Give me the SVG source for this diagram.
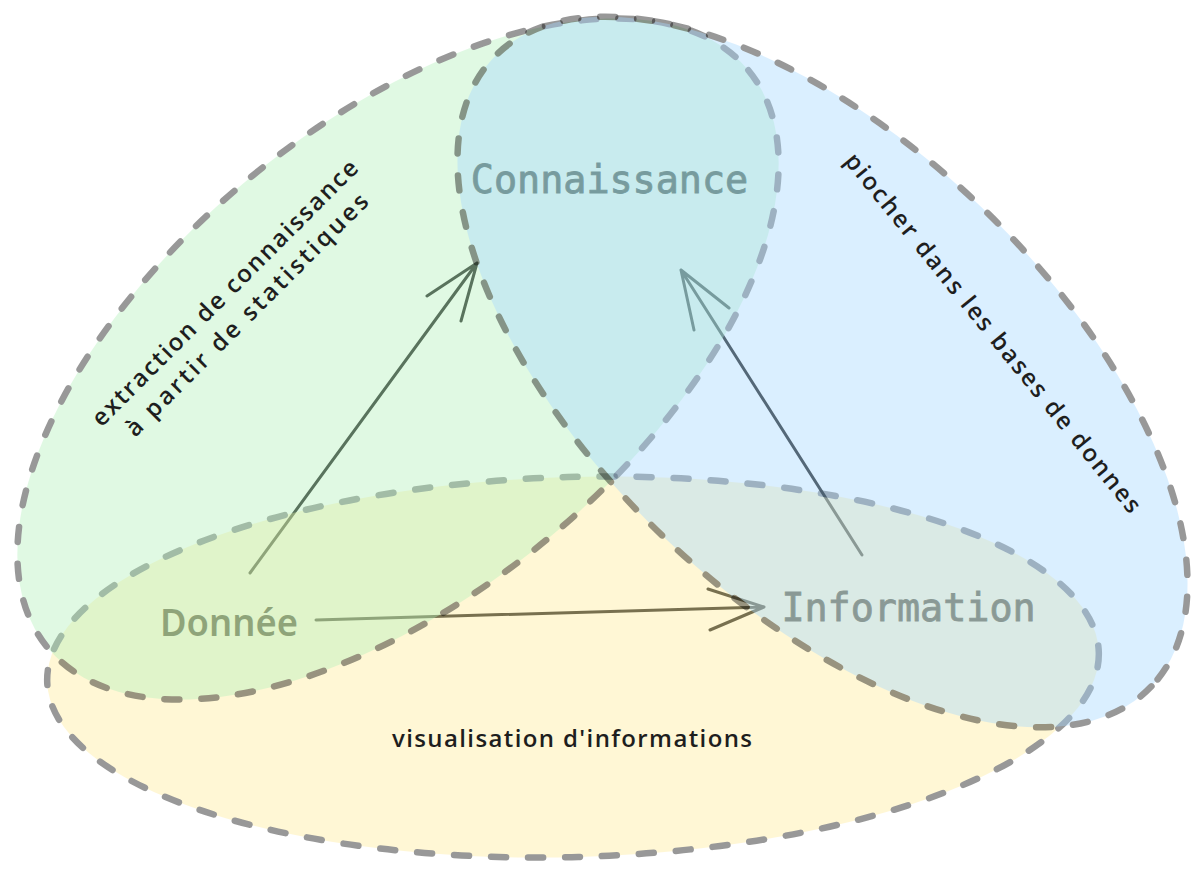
<svg xmlns="http://www.w3.org/2000/svg" width="1204" height="874" viewBox="0 0 1204 874">
  <style>
    .mono { font-family: "DejaVu Sans Mono", "Liberation Mono", monospace; font-size: 38.4px; fill: #1e1e1e; stroke: #1e1e1e; stroke-width: 0.9; }
    .sans { font-family: "Noto Sans", "Open Sans", sans-serif; font-weight: 600; font-size: 38px; fill: #1e1e1e; }
    .hand { font-family: "Open Sans", "Noto Sans", sans-serif; font-weight: 600; font-size: 24px; fill: #1e1e1e; }
    .conn { fill: none; stroke: #1e1e1e; stroke-width: 3; stroke-linecap: round; stroke-linejoin: round; }
    .shape { opacity: 0.4; }
    .shape ellipse { stroke: #000; stroke-width: 6.5; stroke-dasharray: 15 22; stroke-linecap: round; }
  </style>
  <rect width="1204" height="874" fill="#ffffff"/>

  <!-- nodes (labels lie beneath the translucent areas) -->
  <g id="node-connaissance">
    <text class="mono" x="609.5" y="193" text-anchor="middle">Connaissance</text>
  </g>
  <g id="node-donnee">
    <text class="sans" x="160" y="636" textLength="138" lengthAdjust="spacingAndGlyphs">Donnée</text>
  </g>
  <g id="node-information">
    <text class="mono" x="908.5" y="621" text-anchor="middle">Information</text>
  </g>

  <!-- connectors -->
  <g id="connectors">
    <path class="conn" d="M250,573 L477,263 M427,296 L477,263 L461,321"/>
    <path class="conn" d="M862,555 L681,270 M729,308 L681,270 L694,330"/>
    <path class="conn" d="M316,620 L764,607 M708,589 L764,607 L710,630"/>
  </g>

  <!-- areas -->
  <g id="area-visualisation" class="shape">
    <ellipse cx="573" cy="667" rx="526" ry="190" transform="rotate(-1.6 573 667)" fill="#ffec99"/>
  </g>
  <g id="area-extraction" class="shape">
    <ellipse cx="398" cy="359" rx="454" ry="234" transform="rotate(-39.5 398 359)" fill="#b2f2bb"/>
  </g>
  <g id="area-piocher" class="shape">
    <ellipse cx="822.5" cy="372" rx="455" ry="229" transform="rotate(43.7 822.5 372)" fill="#a5d8ff"/>
  </g>

  <!-- annotations -->
  <g id="label-extraction" transform="translate(225 293) rotate(-45)">
    <text class="hand" x="0" y="8" text-anchor="middle" textLength="365" lengthAdjust="spacing">extraction de connaissance</text>
    <text class="hand" x="0" y="39" text-anchor="middle" textLength="332" lengthAdjust="spacing">à partir de statistiques</text>
  </g>
  <g id="label-piocher" transform="translate(993 333) rotate(51)">
    <text class="hand" x="0" y="8" text-anchor="middle" textLength="455" lengthAdjust="spacing">piocher dans les bases de donnes</text>
  </g>
  <g id="label-visualisation">
    <text class="hand" x="572" y="747" text-anchor="middle" textLength="360" lengthAdjust="spacing">visualisation d'informations</text>
  </g>
</svg>
